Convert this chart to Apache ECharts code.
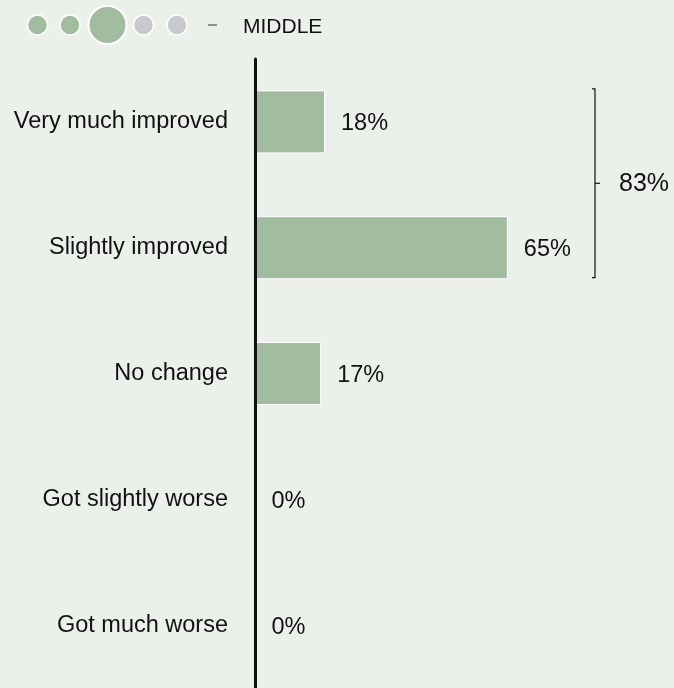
<!DOCTYPE html>
<html>
<head>
<meta charset="utf-8">
<script src="https://cdn.jsdelivr.net/npm/echarts@6/dist/echarts.min.js"></script>
<style>
html,body{margin:0;padding:0;background:#ECF0EB;}
#chart{width:674px;height:688px;}
</style>
</head>
<body>
<div id="chart"></div>
<script>
const categories = ["Very much improved", "Slightly improved", "No change", "Got slightly worse", "Got much worse"];
const values = [18, 65, 17, 0, 0];
const bracketLabel = "83%";
const legendLabel = "MIDDLE";

(function () {
const chart = echarts.init(document.getElementById('chart'), null, {renderer: 'canvas'});
const FONT = '"Liberation Sans", Arial, sans-serif';

const option = {
  backgroundColor: '#ECF0EB',
  animation: false,
  grid: {left: 255, top: 59, width: 389, height: 634, containLabel: false},
  xAxis: {type: 'value', min: 0, max: 100, show: false},
  yAxis: {
    type: 'category', data: categories, inverse: true, z: 5,
    axisLine: {show: true, lineStyle: {color: '#111', width: 3}},
    axisTick: {show: false},
    axisLabel: {margin: 27, fontSize: 23.5, color: '#111', fontFamily: FONT, padding: [4, 0, 0, 0]}
  },
  series: [{
    type: 'bar', data: values, barWidth: 63, z: 2,
    itemStyle: {color: '#A1BC9E', borderColor: '#ffffff', borderWidth: 1},
    label: {show: true, position: 'right', distance: 16, offset: [0, 2], formatter: '{c}%', fontSize: 23.5, color: '#111', fontFamily: FONT}
  }]
};
chart.setOption(option);

const yTop = chart.convertToPixel({gridIndex: 0}, [0, categories[0]])[1] - 33;
const yBot = chart.convertToPixel({gridIndex: 0}, [0, categories[1]])[1] + 30;
const yMid = (yTop + yBot) / 2;
const bx = 595;
chart.setOption({
  graphic: [
    {type: 'polyline', shape: {points: [[bx - 3, yTop], [bx, yTop], [bx, yBot], [bx - 3, yBot]]}, style: {stroke: '#111', lineWidth: 1.2, fill: null}},
    {type: 'line', shape: {x1: bx, y1: yMid, x2: bx + 5, y2: yMid}, style: {stroke: '#111', lineWidth: 1.2}},
    {type: 'text', x: 619, y: yMid + 1, style: {text: bracketLabel, font: '25px ' + FONT, fill: '#111', verticalAlign: 'middle'}},
    {type: 'circle', shape: {cx: 37.5, cy: 25, r: 10}, style: {fill: '#A1BC9E', stroke: '#fff', lineWidth: 1.5}},
    {type: 'circle', shape: {cx: 70, cy: 25, r: 10}, style: {fill: '#A1BC9E', stroke: '#fff', lineWidth: 1.5}},
    {type: 'circle', shape: {cx: 107.5, cy: 25, r: 19}, style: {fill: '#A1BC9E', stroke: '#fff', lineWidth: 2}},
    {type: 'circle', shape: {cx: 143.5, cy: 25, r: 10}, style: {fill: '#C8C9CC', stroke: '#fff', lineWidth: 1.5}},
    {type: 'circle', shape: {cx: 177, cy: 25, r: 10}, style: {fill: '#C8C9CC', stroke: '#fff', lineWidth: 1.5}},
    {type: 'line', shape: {x1: 208, y1: 25, x2: 217, y2: 25}, style: {stroke: '#333', lineWidth: 1}},
    {type: 'text', x: 243, y: 27, style: {text: legendLabel, font: '21px ' + FONT, fill: '#111', verticalAlign: 'middle'}}
  ]
});
})();
</script>
</body>
</html>
